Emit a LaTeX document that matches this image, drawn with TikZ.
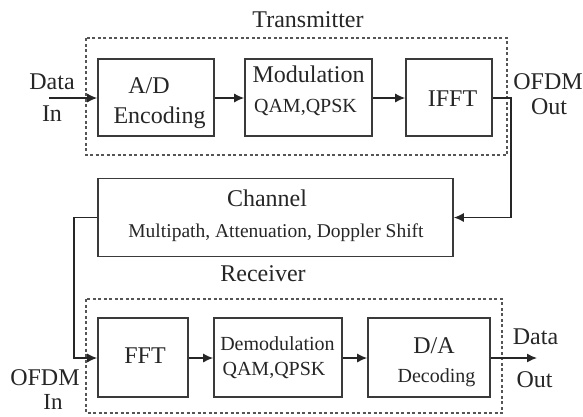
\documentclass[tikz,border=0pt]{standalone}
\usepackage{fontspec}
\setmainfont{Liberation Serif}
\usetikzlibrary{arrows.meta}
\definecolor{ink}{HTML}{262626}
\definecolor{boxc}{HTML}{3A3A3A}
\definecolor{dotc}{HTML}{555555}
\tikzset{
  blk/.style={draw=boxc, line width=1.6pt, fill=white, inner sep=0pt},
  lbl/.style={text=ink, inner sep=0pt, anchor=base, font=\fontsize{24}{28}\selectfont},
  slbl/.style={lbl, font=\fontsize{20}{24}\selectfont},
  conn/.style={draw=ink, line width=1.4pt},
  arr/.style={conn, -{Latex[length=10pt,width=9pt]}},
  dotbox/.style={draw=dotc, line width=1.3pt, dash pattern=on 3pt off 2.5pt}
}
\begin{document}
\begin{tikzpicture}[x=1pt,y=-1pt]
\useasboundingbox (0,0) rectangle (583,416);
% dotted frames
\draw[dotbox] (86,38) rectangle (507,155);
\draw[dotbox] (86,299) rectangle (502,413);
% boxes
\node[blk, minimum width=116pt, minimum height=77pt] (ad) at (156,97.5) {};
\node[blk, minimum width=127pt, minimum height=77pt] (mod) at (308.5,97.5) {};
\node[blk, minimum width=86pt, minimum height=77pt] (ifft) at (449,97.5) {};
\node[blk, minimum width=355pt, minimum height=78pt] (ch) at (275.5,217.5) {};
\node[blk, minimum width=90pt, minimum height=79pt] (fft) at (143,357.5) {};
\node[blk, minimum width=128pt, minimum height=79pt] (dem) at (278,357.5) {};
\node[blk, minimum width=122pt, minimum height=79pt] (da) at (429,357.5) {};
% texts
\node[lbl] (tx) at (308,27) {Transmitter};
\node[lbl] (din1) at (52,89) {Data};
\node[lbl] (din2) at (52,121) {In};
\node[lbl] (adt1) at (149,93) {A/D};
\node[lbl] (adt2) at (159.5,123) {Encoding};
\node[lbl] (modt1) at (308.5,82) {Modulation};
\node[slbl] (modt2) at (305.5,112) {QAM,QPSK};
\node[lbl] (ifftt) at (452.5,106) {IFFT};
\node[lbl] (oout1) at (548,89) {OFDM};
\node[lbl] (oout2) at (549,114) {Out};
\node[lbl] (cht1) at (267,206) {Channel};
\node[lbl, font=\fontsize{19.5}{23}\selectfont] (cht2) at (276,237) {Multipath, Attenuation, Doppler Shift};
\node[lbl] (rx) at (263,281) {Receiver};
\node[lbl] (fftt) at (145,363) {FFT};
\node[slbl] (demt1) at (277.5,350) {Demodulation};
\node[slbl] (demt2) at (274,375) {QAM,QPSK};
\node[lbl] (dat1) at (434,353) {D/A};
\node[slbl] (dat2) at (436.5,382) {Decoding};
\node[lbl] (dout1) at (535.5,344) {Data};
\node[lbl] (dout2) at (534.5,387) {Out};
\node[lbl] (oin1) at (45,385) {OFDM};
\node[lbl, font=\fontsize{23}{26}\selectfont] (oin2) at (53,409) {In};
% connectors
\coordinate (inS) at (49,98);
\coordinate (outE) at (537,358);
\coordinate (r1) at (511,98);
\coordinate (r2) at (511,217.5);
\coordinate (l1) at (74,217.5);
\coordinate (l2) at (74,358);
\draw[arr] (inS) -- (ad.west |- inS);
\draw[arr] (ad.east |- inS) -- (mod.west |- inS);
\draw[arr] (mod.east |- inS) -- (ifft.west |- inS);
\draw[arr] (ifft.east |- r1) -- (r1) -- (r2) -- (ch.east);
\draw[arr] (ch.west) -- (l1) -- (l2) -- (fft.west |- l2);
\draw[arr] (fft.east |- l2) -- (dem.west |- l2);
\draw[arr] (dem.east |- l2) -- (da.west |- l2);
\draw[arr] (da.east |- l2) -- (outE);
\end{tikzpicture}
\end{document}
